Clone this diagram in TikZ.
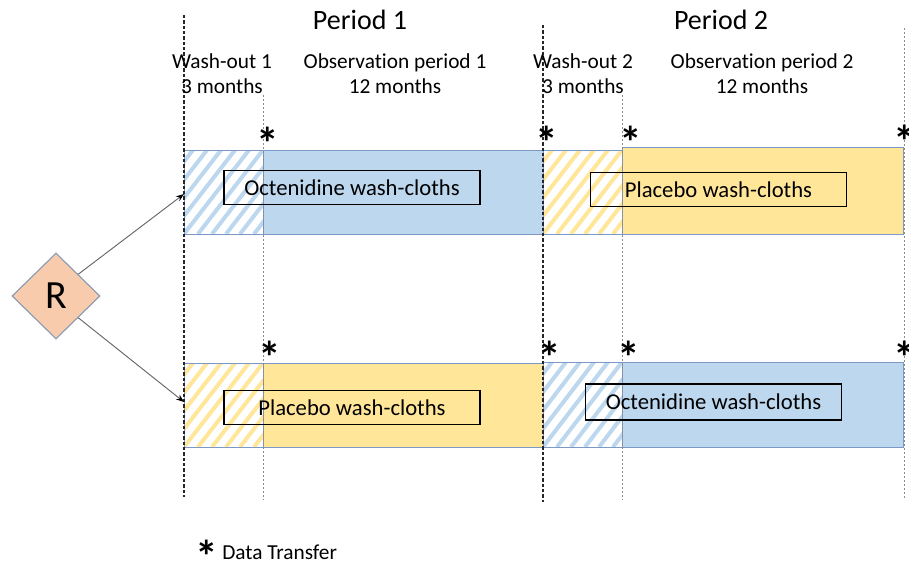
\documentclass[tikz,border=0pt]{standalone}
\usepackage{fontspec}
\setmainfont{Carlito}[Ligatures=NoCommon]
\usepackage{tikz}
\usetikzlibrary{shapes.geometric,arrows.meta}

\definecolor{clothblue}{RGB}{189,215,238}
\definecolor{clothyellow}{RGB}{255,230,153}
\definecolor{rimblue}{RGB}{124,152,196}
\definecolor{diamondfill}{RGB}{248,203,173}
\definecolor{diamondrim}{RGB}{132,151,176}

% hatched wash-out block: corners (#1,#2) and (#3,#4), stripe colour #5
\newcommand{\hatchrect}[5]{%
  \begin{scope}
    \clip (#1,#2) rectangle (#3,#4);
    \foreach \s in {-84,-70,...,84}
      \draw [#5, line width=3pt] ({#1+\s},#4) -- ({#1+\s+65},#2);
  \end{scope}
  \draw [rimblue, line width=0.6pt] (#1,#2) rectangle (#3,#4);
}

\begin{document}
\begin{tikzpicture}[x=0.75pt,y=0.75pt,yscale=-1,xscale=1,
    blueband/.style={fill=clothblue, draw=rimblue, line width=0.6pt},
    yellowband/.style={fill=clothyellow, draw=rimblue, line width=0.6pt},
    clothbox/.style={draw, line width=0.8pt, minimum width=192pt, minimum height=25pt, inner sep=0pt, font=\fontsize{17}{20}\selectfont},
    datastar/.style={inner sep=0pt, font=\fontsize{34}{34}\selectfont\bfseries},
    head/.style={align=center, inner sep=0pt, font=\fontsize{16}{19}\selectfont},
    washline/.style={black!85, line width=0.8pt, dash pattern={on 2.5pt off 1.5pt}},
    obsline/.style={black!45, line width=0.7pt, dash pattern={on 1.5pt off 1.5pt}},
    randarrow/.style={draw=black!60, line width=0.7pt, -{Stealth[length=6pt, width=4.5pt, color=black]}}]
    \useasboundingbox (0,0) rectangle (909,564);

    %Shape: Rectangle, first sequence
    \hatchrect{184}{150}{263}{234}{clothblue}
    \draw [blueband] (263,150) rectangle (543,234) ;
    \hatchrect{543}{150}{622}{234}{clothyellow}
    \draw [yellowband] (622,147) rectangle (903,234) ;
    %Shape: Rectangle, second sequence
    \hatchrect{184}{363}{263}{447}{clothyellow}
    \draw [yellowband] (263,363) rectangle (543,447) ;
    \hatchrect{543}{362}{622}{447}{clothblue}
    \draw [blueband] (622,362) rectangle (903,447) ;

    %Straight Lines, period borders
    \draw [washline] (184,15) -- (184,497) ;
    \draw [washline] (543,25) -- (543,502) ;
    \draw [obsline] (263,95) -- (263,500) ;
    \draw [obsline] (622,95) -- (622,500) ;
    \draw [obsline] (904,28) -- (904,500) ;

    % Text Node, wash-cloth boxes
    \draw (352,187.5) node (octA) [clothbox] {Octenidine wash-cloths};
    \draw (718.5,189.5) node (plaA) [clothbox, minimum height=26pt] {Placebo wash-cloths};
    \draw (352,407.5) node (plaB) [clothbox] {Placebo wash-cloths};
    \draw (713.5,402) node (octB) [clothbox, minimum height=27pt] {Octenidine wash-cloths};

    % Text Node, headings
    \draw (360,20) node (perA) [inner sep=0pt, font=\fontsize{21}{24}\selectfont] {Period 1};
    \draw (721,20) node (perB) [inner sep=0pt, font=\fontsize{21}{24}\selectfont] {Period 2};
    \draw (222,74) node (washA) [head] {Wash-out 1\\3 months};
    \draw (395,74) node (obsA) [head] {Observation period 1\\12 months};
    \draw (583,74) node (washB) [head] {Wash-out 2\\3 months};
    \draw (762,74) node (obsB) [head] {Observation period 2\\12 months};

    % Text Node, data transfer marks
    \draw (268,143) node (starA) [datastar] {*};
    \draw (547,142) node (starB) [datastar] {*};
    \draw (631,142) node (starC) [datastar] {*};
    \draw (905,141) node (starD) [datastar] {*};
    \draw (270,357) node (starE) [datastar] {*};
    \draw (550,357) node (starF) [datastar] {*};
    \draw (629,357) node (starG) [datastar] {*};
    \draw (905,357) node (starH) [datastar] {*};

    %Shape: Diamond
    \draw (56,296) node (rand) [diamond, fill=diamondfill, draw=diamondrim, line width=0.8pt, minimum width=66pt, minimum height=64.5pt, inner sep=0pt, font=\fontsize{30}{30}\selectfont] {R};
    \coordinate (seqA) at (184,194);
    \coordinate (seqB) at (184,402);
    \draw [randarrow] (rand.north east) -- (seqA) ;
    \draw [randarrow] (rand.south east) -- (seqB) ;

    % Text Node, legend
    \draw (207,556) node (legstar) [datastar] {*};
    \draw (222,552) node (legend) [anchor=west, inner sep=0pt, font=\fontsize{16}{19}\selectfont] {Data Transfer};
\end{tikzpicture}
\end{document}
